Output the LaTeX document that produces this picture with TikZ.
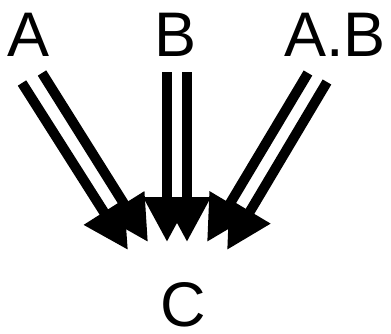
\documentclass[tikz,border=0pt]{standalone}
\usepackage{fontspec}
\setmainfont{Liberation Sans}
\usetikzlibrary{arrows.meta}
\tikzset{
  lbl/.style={font=\fontsize{63}{63}\selectfont, inner sep=0pt},
  arr/.style={-{Triangle[length=45pt,width=45pt]}, line width=10pt}}

\begin{document}
\begin{tikzpicture}[x=1pt, y=-1pt]
  \useasboundingbox (0,0) rectangle (391,333);
  \node[lbl] (A) at (29,35) {A};
  \node[lbl] (B) at (176,35) {B};
  \node[lbl] (AB) at (335,35) {A.B};
  \node[lbl] (C) at (183,305) {C};
  % ends of the double arrows
  \coordinate (a1) at (22,83);  \coordinate (a1C) at (128,250);
  \coordinate (a2) at (42,73);  \coordinate (a2C) at (148,242);
  \coordinate (b1) at (167,72); \coordinate (b1C) at (167,242);
  \coordinate (b2) at (187,72); \coordinate (b2C) at (187,242);
  \coordinate (c1) at (308,73); \coordinate (c1C) at (207,242);
  \coordinate (c2) at (327,82); \coordinate (c2C) at (227,250);
  \draw[arr] (a1) -- (a1C); \draw[arr] (a2) -- (a2C);
  \draw[arr] (b1) -- (b1C); \draw[arr] (b2) -- (b2C);
  \draw[arr] (c1) -- (c1C); \draw[arr] (c2) -- (c2C);
\end{tikzpicture}
\end{document}
